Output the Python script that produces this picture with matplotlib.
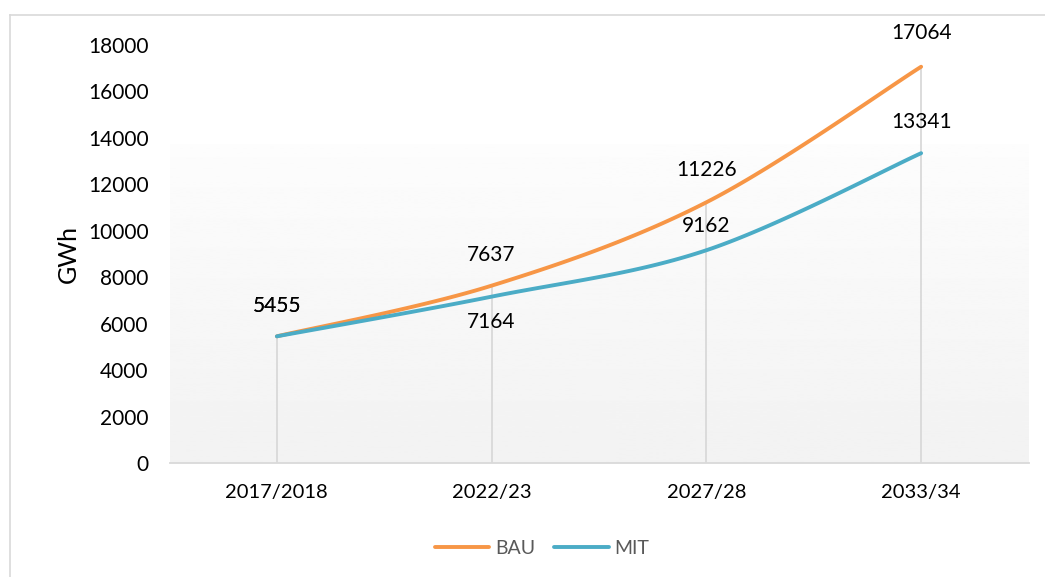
import numpy as np
import matplotlib.pyplot as plt
from matplotlib.lines import Line2D

years = ['2017/2018', '2022/23', '2027/28', '2033/34']
bau = [5455, 7637, 11226, 17064]
mit = [5455, 7164, 9162, 13341]

c_bau = '#F79646'
c_mit = '#4BACC6'
plt.rcParams['font.family'] = ['Lato', 'DejaVu Sans']


def smooth(x, y, n=40):
    # bezier smoothing like Excel's "smoothed line"
    x = np.asarray(x, float)
    y = np.asarray(y, float)
    px = np.concatenate([[x[0]], x, [x[-1]]])
    py = np.concatenate([[y[0]], y, [y[-1]]])
    xs, ys = [], []
    t = np.linspace(0, 1, n)
    for i in range(len(x) - 1):
        p0 = np.array([px[i + 1], py[i + 1]])
        p3 = np.array([px[i + 2], py[i + 2]])
        p1 = p0 + (np.array([px[i + 2], py[i + 2]]) - np.array([px[i], py[i]])) / 6
        p2 = p3 - (np.array([px[i + 3], py[i + 3]]) - np.array([px[i + 1], py[i + 1]])) / 6
        b = ((1 - t) ** 3)[:, None] * p0 + (3 * (1 - t) ** 2 * t)[:, None] * p1 \
            + (3 * (1 - t) * t ** 2)[:, None] * p2 + (t ** 3)[:, None] * p3
        xs.extend(b[:, 0])
        ys.extend(b[:, 1])
    return np.array(xs), np.array(ys)


fig = plt.figure(figsize=(10.45, 5.77), dpi=100)
ax = fig.add_axes([169.5 / 1045, 114 / 577, 859 / 1045, 418 / 577])

# outer chart border (top and left visible)
fig.add_artist(Line2D([10 / 1045, 1045 / 1045], [1 - 15 / 577, 1 - 15 / 577],
                      color='#d9d9d9', lw=1.2))
fig.add_artist(Line2D([10 / 1045, 10 / 1045], [0, 1 - 15 / 577],
                      color='#d9d9d9', lw=1.2))

x = np.arange(len(years))
ax.set_xlim(-0.5, len(years) - 0.5)
ax.set_ylim(0, 18000)

# gradient plot area
grad = np.linspace(0.99, 0.949, 256).reshape(-1, 1)
ax.imshow(grad, cmap='gray', vmin=0, vmax=1, aspect='auto',
          extent=[-0.5, len(years) - 0.5, 0, 13700], zorder=0)

# drop lines
for xi, v in zip(x, bau):
    ax.plot([xi, xi], [0, max(v, mit[xi])], color='#d9d9d9', lw=1.3, zorder=1)

sx, sy = smooth(x, bau)
ax.plot(sx, sy, color=c_bau, lw=2.8, solid_capstyle='round', zorder=3, label='BAU')
sx, sy = smooth(x, mit)
ax.plot(sx, sy, color=c_mit, lw=2.8, solid_capstyle='round', zorder=4, label='MIT')

# data labels
bau_off = [30, 31, 32, 34]
mit_off = [30, -25, 24, 31]
for xi, v, o in zip(x, bau, bau_off):
    ax.annotate(str(v), (xi, v), xytext=(0, o), textcoords='offset pixels',
                ha='center', va='center', fontsize=15, color='black',
                annotation_clip=False)
for xi, v, o in zip(x, mit, mit_off):
    ax.annotate(str(v), (xi, v), xytext=(0, o), textcoords='offset pixels',
                ha='center', va='center', fontsize=15, color='black',
                annotation_clip=False)

ax.set_xticks(x)
ax.set_xticklabels(years, fontsize=14.5, color='black')
ax.set_yticks(np.arange(0, 18001, 2000))
ax.tick_params(axis='y', labelsize=15, labelcolor='black', length=0, pad=15)
ax.tick_params(axis='x', length=0, pad=15)
ax.set_ylabel('GWh', fontsize=18, labelpad=6)

for s in ['top', 'right', 'left']:
    ax.spines[s].set_visible(False)
ax.spines['bottom'].set_color('#d9d9d9')
ax.spines['bottom'].set_linewidth(1.3)

leg = fig.legend(loc='center', bbox_to_anchor=(542 / 1045, 1 - 548 / 577), ncol=2,
                 frameon=False, fontsize=14, handlelength=2.8, columnspacing=1.0,
                 handletextpad=0.3)
for t in leg.get_texts():
    t.set_color('#595959')

fig.savefig('out.png', dpi=100)
